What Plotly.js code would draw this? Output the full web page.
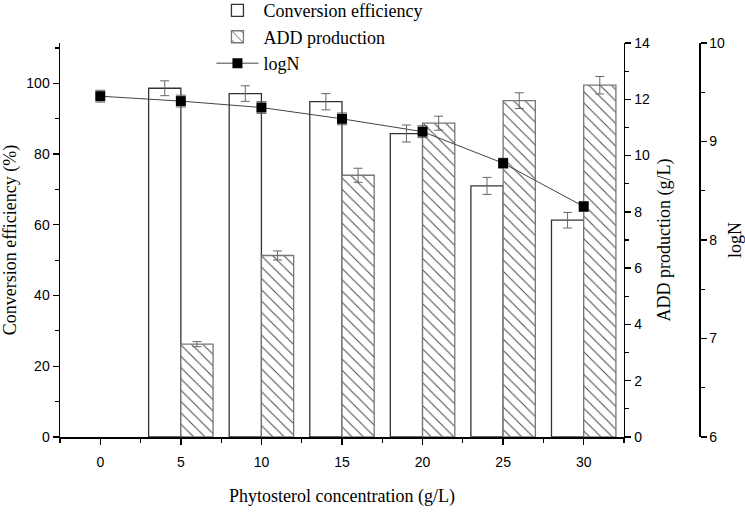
<!DOCTYPE html>
<html>
<head>
<meta charset="utf-8">
<script src="https://cdn.plot.ly/plotly-3.0.1.min.js"></script>
<style>html,body{margin:0;padding:0;background:#fff;}#chart{width:745px;height:522px;}</style>
</head>
<body>
<div id="chart"></div>
<script>
// Data
const categories = [0, 5, 10, 15, 20, 25, 30];            // Phytosterol concentration (g/L)
const conversion = [null, 98.6, 97.1, 94.8, 85.8, 71.0, 61.3];   // Conversion efficiency (%)
const conversionErr = [null, 2.1, 2.2, 2.3, 2.4, 2.4, 2.2];
const addProduction = [null, 3.3, 6.45, 9.3, 11.15, 11.95, 12.5]; // ADD production (g/L)
const addErr = [null, 0.09, 0.16, 0.25, 0.25, 0.28, 0.31];
const logN = [9.46, 9.41, 9.345, 9.23, 9.10, 8.78, 8.34];
const logNErr = [0.06, 0.06, 0.06, 0.06, 0.06, 0.05, 0.05];
const xTicks = [0, 5, 10, 15, 20, 25, 30];

const serif = "Liberation Serif, Times New Roman, serif";
const sans = "Liberation Sans, Arial, sans-serif";

const traces = [
  {
    type: 'bar', name: 'Conversion efficiency',
    x: categories, y: conversion,
    width: 2, offset: -2,
    marker: {color: '#ffffff', line: {color: '#333333', width: 1.3}},
    error_y: {type: 'data', array: conversionErr, visible: true, color: '#666666', thickness: 1, width: 4.5},
    xaxis: 'x', yaxis: 'y'
  },
  {
    type: 'bar', name: 'ADD production',
    x: categories, y: addProduction,
    width: 2, offset: 0,
    marker: {color: '#ffffff', line: {color: '#777777', width: 1.3},
             pattern: {shape: '\\', fgcolor: '#444444', bgcolor: '#ffffff', size: 8, solidity: 0.12}},
    error_y: {type: 'data', array: addErr, visible: true, color: '#666666', thickness: 1, width: 4.5},
    xaxis: 'x', yaxis: 'y2'
  },
  {
    type: 'scatter', mode: 'lines+markers', name: 'logN',
    x: categories, y: logN,
    line: {color: '#444444', width: 1},
    marker: {symbol: 'square', size: 10, color: '#000000'},
    error_y: {type: 'data', array: logNErr, visible: true, color: '#666666', thickness: 1, width: 5},
    xaxis: 'x', yaxis: 'y3'
  }
];

const axisCommon = {
  showline: true, linecolor: '#000', linewidth: 1.5,
  ticks: 'outside', ticklen: 6, tickwidth: 1.3, tickcolor: '#000',
  showgrid: false, zeroline: false,
  tickfont: {family: sans, size: 14, color: '#000'}
};

const layout = {
  width: 745, height: 522,
  margin: {l: 60, r: 46, t: 43, b: 85, autoexpand: false},
  paper_bgcolor: '#fff', plot_bgcolor: '#fff',
  showlegend: true,
  legend: {
    x: 0.237, y: 1.129, xanchor: 'left', yanchor: 'top',
    font: {family: serif, size: 18, color: '#000'},
    bgcolor: 'rgba(0,0,0,0)', itemwidth: 42, tracegroupgap: 0,
    traceorder: 'normal'
  },
  bargap: 0,
  xaxis: Object.assign({}, axisCommon, {
    domain: [0, 0.8826],
    range: [-2.5, 32.5],
    tickmode: 'array', tickvals: xTicks, ticktext: xTicks.map(String),
    ticklabelstandoff: 6,
    minor: {dtick: 2.5, tick0: 0, ticklen: 4, tickwidth: 1.2, tickcolor: '#000', ticks: 'outside'},
    title: {text: 'Phytosterol concentration (g/L)', font: {family: serif, size: 18, color: '#000'}, standoff: 20}
  }),
  yaxis: Object.assign({}, axisCommon, {
    range: [0, 111.4], dtick: 20, tick0: 0,
    minor: {dtick: 10, ticklen: 4, tickwidth: 1.2, tickcolor: '#000', ticks: 'outside'},
    title: {text: 'Conversion efficiency (%)', font: {family: serif, size: 18, color: '#000'}, standoff: 12}
  }),
  yaxis2: Object.assign({}, axisCommon, {
    overlaying: 'y', side: 'right', anchor: 'x',
    range: [0, 14], dtick: 2, tick0: 0,
    minor: {dtick: 1, ticklen: 4, tickwidth: 1.2, tickcolor: '#000', ticks: 'outside'},
    title: {text: 'ADD production (g/L)', font: {family: serif, size: 18, color: '#000'}, standoff: 8}
  }),
  yaxis3: Object.assign({}, axisCommon, {
    overlaying: 'y', side: 'right', anchor: 'free', position: 1,
    range: [6, 10], dtick: 1, tick0: 6,
    minor: {dtick: 0.5, ticklen: 4, tickwidth: 1.2, tickcolor: '#000', ticks: 'outside'},
    title: {text: 'logN', font: {family: serif, size: 18, color: '#000'}, standoff: 8}
  })
};

Plotly.newPlot('chart', traces, layout, {displayModeBar: false, staticPlot: true});
</script>
</body>
</html>
